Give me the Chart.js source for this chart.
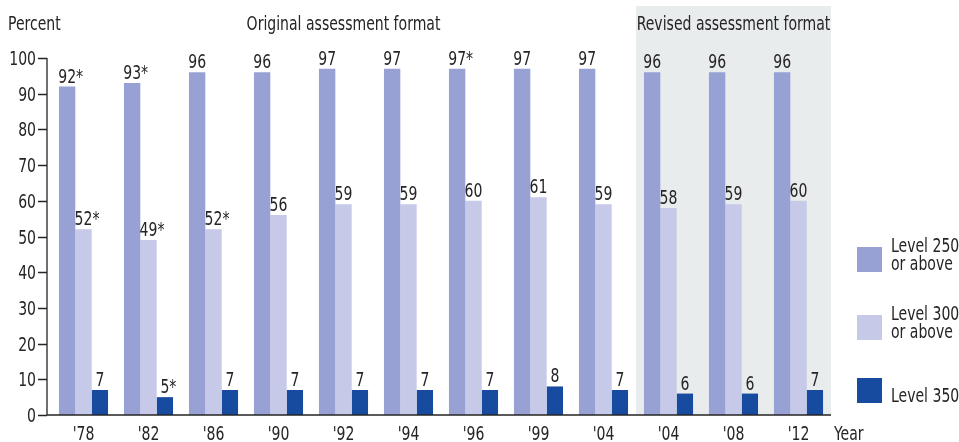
<!DOCTYPE html>
<html>
<head>
<meta charset="utf-8">
<script src="https://cdn.jsdelivr.net/npm/chart.js@4.4.1/dist/chart.umd.min.js"></script>
<style>
  html, body { margin: 0; padding: 0; background: #fff; }
  #wrap { width: 959px; height: 442px; }
</style>
</head>
<body>
<div id="wrap"><canvas id="levels"></canvas></div>
<script>
var years = ["'78", "'82", "'86", "'90", "'92", "'94", "'96", "'99", "'04", "'04", "'08", "'12"];
var level250 = [92, 93, 96, 96, 97, 97, 97, 97, 97, 96, 96, 96];
var level300 = [52, 49, 52, 56, 59, 59, 60, 61, 59, 58, 59, 60];
var level350 = [7, 5, 7, 7, 7, 7, 7, 8, 7, 6, 6, 7];
// '*' marks a value significantly different from 2012
var star250 = [1, 1, 0, 0, 0, 0, 1, 0, 0, 0, 0, 0];
var star300 = [1, 1, 1, 0, 0, 0, 0, 0, 0, 0, 0, 0];
var star350 = [0, 1, 0, 0, 0, 0, 0, 0, 0, 0, 0, 0];
var seriesNames = [["Level 250", "or above"], ["Level 300", "or above"], ["Level 350"]];
var yTicks = [0, 10, 20, 30, 40, 50, 60, 70, 80, 90, 100];
var revisedFrom = 9; // first year on the revised format

var FONT = "20px 'DejaVu Sans Condensed', 'Liberation Sans Narrow', sans-serif";
var SQUEEZE = 0.78; // narrow the condensed face a bit more
var INK = "#262424";
var colors = ["#98a1d3", "#c6c9e7", "#174b9f"];
var stars = [star250, star300, star350];

function say(c, txt, x, y, align) {
  c.save();
  c.translate(x, y);
  c.scale(SQUEEZE, 1);
  c.textAlign = align || "left";
  c.fillText(txt, 0, 0);
  c.restore();
}
function textWidth(c, txt) { return c.measureText(txt).width * SQUEEZE; }

var extras = {
  id: 'extras',
  beforeDatasetsDraw: function(chart) {
    var c = chart.ctx, a = chart.chartArea, x = chart.scales.x;
    var half = (x.getPixelForValue(1) - x.getPixelForValue(0)) / 2;
    var left = x.getPixelForValue(revisedFrom) - half;
    c.save();
    c.fillStyle = "#e8eced";
    c.fillRect(left, 6, a.right - left, a.bottom - 6);
    c.restore();
  },
  afterDatasetsDraw: function(chart) {
    var c = chart.ctx, a = chart.chartArea, x = chart.scales.x, y = chart.scales.y;
    var axisX = a.left - 4;
    c.save();
    // axes
    c.strokeStyle = INK;
    c.lineWidth = 1.3;
    c.beginPath();
    c.moveTo(axisX, y.getPixelForValue(100));
    c.lineTo(axisX, a.bottom);
    c.lineTo(a.right, a.bottom);
    yTicks.forEach(function(v) {
      var py = Math.round(y.getPixelForValue(v)) + 0.5;
      c.moveTo(axisX - 9, py);
      c.lineTo(axisX, py);
    });
    c.stroke();

    c.fillStyle = INK;
    c.font = FONT;
    c.textBaseline = "alphabetic";
    yTicks.forEach(function(v) {
      say(c, String(v), axisX - 11, y.getPixelForValue(v) + 7, "right");
    });
    years.forEach(function(t, j) {
      say(c, t, x.getPixelForValue(j), 440, "center");
    });

    // value labels above the bars
    chart.data.datasets.forEach(function(ds, i) {
      chart.getDatasetMeta(i).data.forEach(function(bar, j) {
        var txt = String(ds.data[j]);
        var w = textWidth(c, txt);
        say(c, txt, bar.x - w / 2, bar.y - 4, "left");
        if (stars[i][j]) say(c, "*", bar.x + w / 2, bar.y - 4, "left");
      });
    });

    // headings
    var half = (x.getPixelForValue(1) - x.getPixelForValue(0)) / 2;
    var split = x.getPixelForValue(revisedFrom) - half;
    say(c, "Percent", 8, 30, "left");
    say(c, "Original assessment format", (a.left + split) / 2, 30, "center");
    say(c, "Revised assessment format", (split + a.right) / 2, 30, "center");
    say(c, "Year", a.right + 3, 440, "left");

    // legend
    var boxTop = [247, 315, 378];
    seriesNames.forEach(function(lines, i) {
      c.fillStyle = colors[i];
      c.fillRect(857, boxTop[i], 25, 25);
      c.fillStyle = INK;
      lines.forEach(function(t, k) {
        var base = lines.length === 1 ? boxTop[i] + 24 : boxTop[i] + 5 + k * 18;
        say(c, t, 891, base, "left");
      });
    });
    c.restore();
  }
};

new Chart(document.getElementById("levels"), {
  type: 'bar',
  data: {
    labels: years,
    datasets: [
      { label: seriesNames[0].join(' '), data: level250, backgroundColor: colors[0] },
      { label: seriesNames[1].join(' '), data: level300, backgroundColor: colors[1] },
      { label: seriesNames[2].join(' '), data: level350, backgroundColor: colors[2] }
    ]
  },
  options: {
    responsive: true,
    maintainAspectRatio: false,
    animation: false,
    layout: { padding: { top: 58, right: 128, left: 0, bottom: 0 } },
    datasets: { bar: { categoryPercentage: 0.755, barPercentage: 1 } },
    plugins: { legend: { display: false }, tooltip: { enabled: false } },
    scales: {
      x: {
        grid: { display: false },
        border: { display: false },
        ticks: { display: false },
        afterFit: function(s) { s.height = 27; }
      },
      y: {
        min: 0, max: 100,
        afterBuildTicks: function(s) { s.ticks = yTicks.map(function(v) { return { value: v }; }); },
        grid: { display: false },
        border: { display: false },
        ticks: { display: false },
        afterFit: function(s) { s.width = 51; }
      }
    }
  },
  plugins: [extras]
});
</script>
</body>
</html>
